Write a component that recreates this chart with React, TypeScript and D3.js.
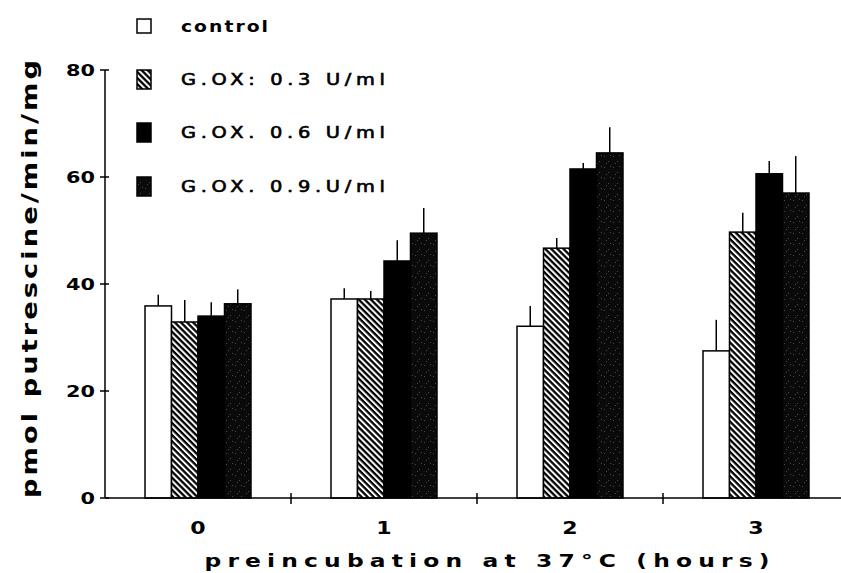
import React, { useEffect, useRef } from 'react';
import * as d3 from 'd3';

// preincubation time (hours)
const hours = ['0', '1', '2', '3'];
const seriesKeys = ['control', 'gox03', 'gox06', 'gox09'];
const seriesLabels = ['control', 'G.OX: 0.3 U/ml', 'G.OX. 0.6 U/ml', 'G.OX. 0.9.U/ml'];

// means and upper error bars (pmol putrescine/min/mg)
const controlVals = [35.9, 37.2, 32.1, 27.5];
const controlErr = [38.0, 39.2, 35.9, 33.3];
const gox03Vals = [32.9, 37.2, 46.7, 49.7];
const gox03Err = [37.0, 38.7, 48.6, 53.3];
const gox06Vals = [34.0, 44.3, 61.5, 60.6];
const gox06Err = [36.6, 48.2, 62.6, 63.0];
const gox09Vals = [36.3, 49.5, 64.5, 57.0];
const gox09Err = [39.0, 54.2, 69.3, 63.9];

const yTicks = [0, 20, 40, 60, 80];

const FONT = 'DejaVu Sans, Verdana, sans-serif';

const App = () => {
  const svgRef = useRef<SVGSVGElement>(null);

  useEffect(() => {
    const svg = d3.select(svgRef.current);
    svg.selectAll('*').remove();

    const W = 841, H = 573;
    const left = 105, bottom = 498, top = 70;
    const stretch = 1.3; // police étirée
    const legStretch = 1.25;

    const defs = svg.append('defs');
    // hachures
    const hatch = defs.append('pattern')
      .attr('id', 'hatch')
      .attr('patternUnits', 'userSpaceOnUse')
      .attr('width', 4.3).attr('height', 4.3)
      .attr('patternTransform', 'rotate(45)');
    hatch.append('rect').attr('width', 4.3).attr('height', 4.3).attr('fill', 'white');
    hatch.append('rect').attr('width', 4.3).attr('height', 2.3).attr('fill', 'black');

    // noir tacheté
    const speck = defs.append('pattern')
      .attr('id', 'speck')
      .attr('patternUnits', 'userSpaceOnUse')
      .attr('width', 9).attr('height', 11);
    speck.append('rect').attr('width', 9).attr('height', 11).attr('fill', '#0a0a0a');
    [[1, 2], [5, 7], [7, 1], [3, 9]].forEach(([sx, sy]) => {
      speck.append('rect').attr('x', sx).attr('y', sy).attr('width', 1).attr('height', 1).attr('fill', '#4a4a4a');
    });

    const x = d3.scaleBand().domain(hours).range([left, left + 4 * 186]).paddingInner(0).paddingOuter(0);
    const xs = d3.scaleBand().domain(seriesKeys).range([0, x.bandwidth()]).paddingInner(0).paddingOuter(1.51);
    const y = d3.scaleLinear().domain([0, 80]).range([bottom, top]);

    const fills: Record<string, string> = {
      control: 'white', gox03: 'url(#hatch)', gox06: 'black', gox09: 'url(#speck)',
    };
    const vals: Record<string, number[]> = {
      control: controlVals, gox03: gox03Vals, gox06: gox06Vals, gox09: gox09Vals,
    };
    const errs: Record<string, number[]> = {
      control: controlErr, gox03: gox03Err, gox06: gox06Err, gox09: gox09Err,
    };

    const rows = hours.flatMap((h, i) => seriesKeys.map(k => ({ h, k, v: vals[k][i], e: errs[k][i] })));

    // barres d'erreur
    svg.selectAll('line.err')
      .data(rows)
      .enter()
      .append('line')
      .attr('x1', d => x(d.h)! + xs(d.k)! + xs.bandwidth() / 2)
      .attr('x2', d => x(d.h)! + xs(d.k)! + xs.bandwidth() / 2)
      .attr('y1', d => y(d.v))
      .attr('y2', d => y(d.e))
      .attr('stroke', 'black')
      .attr('stroke-width', 1.5);

    // barres
    svg.selectAll('rect.bar')
      .data(rows)
      .enter()
      .append('rect')
      .attr('x', d => x(d.h)! + xs(d.k)!)
      .attr('y', d => y(d.v))
      .attr('width', xs.bandwidth())
      .attr('height', d => bottom - y(d.v))
      .attr('fill', d => fills[d.k])
      .attr('stroke', 'black')
      .attr('stroke-width', 1.5);

    // axes
    svg.append('line')
      .attr('x1', left).attr('x2', left).attr('y1', top).attr('y2', bottom)
      .attr('stroke', 'black').attr('stroke-width', 1.5);
    svg.append('line')
      .attr('x1', left).attr('x2', W).attr('y1', bottom).attr('y2', bottom)
      .attr('stroke', 'black').attr('stroke-width', 1.5);

    svg.selectAll('line.ytick')
      .data(yTicks)
      .enter()
      .append('line')
      .attr('x1', left - 5).attr('x2', left + 4)
      .attr('y1', d => y(d)).attr('y2', d => y(d))
      .attr('stroke', 'black').attr('stroke-width', 1.5);

    svg.selectAll('text.ytick')
      .data(yTicks)
      .enter()
      .append('text')
      .attr('transform', d => `translate(${left - 10}, ${y(d) + 6}) scale(${stretch}, 1)`)
      .attr('text-anchor', 'end')
      .attr('font-family', FONT)
      .attr('font-weight', 'bold')
      .attr('font-size', 16)
      .text(d => d);

    svg.selectAll('line.xtick')
      .data(hours.slice(1))
      .enter()
      .append('line')
      .attr('x1', d => x(d)!).attr('x2', d => x(d)!)
      .attr('y1', bottom - 5).attr('y2', bottom + 6)
      .attr('stroke', 'black').attr('stroke-width', 1.5);

    svg.selectAll('text.xtick')
      .data(hours)
      .enter()
      .append('text')
      .attr('transform', d => `translate(${x(d)! + x.bandwidth() / 2}, 534) scale(${stretch}, 1)`)
      .attr('text-anchor', 'middle')
      .attr('font-family', FONT)
      .attr('font-weight', 'bold')
      .attr('font-size', 17)
      .text(d => d);

    // titres
    svg.append('text')
      .attr('transform', `translate(37, 279) rotate(-90) scale(${stretch}, 1)`)
      .attr('text-anchor', 'middle')
      .attr('font-family', FONT)
      .attr('font-weight', 'bold')
      .attr('font-size', 21)
      .attr('textLength', 438 / stretch)
      .attr('lengthAdjust', 'spacing')
      .text('pmol putrescine/min/mg');

    svg.append('text')
      .attr('transform', `translate(487, 567) scale(${stretch}, 1)`)
      .attr('text-anchor', 'middle')
      .attr('font-family', FONT)
      .attr('font-weight', 'bold')
      .attr('font-size', 18)
      .attr('textLength', 565 / stretch)
      .attr('lengthAdjust', 'spacing')
      .text('preincubation at 37°C (hours)');

    // légende
    const legY = [26, 79, 132, 186];
    const leg = svg.selectAll('g.leg')
      .data(seriesKeys)
      .enter()
      .append('g')
      .attr('transform', (d, i) => `translate(0, ${legY[i]})`);
    leg.append('rect')
      .attr('x', 137)
      .attr('y', (d, i) => (i === 0 ? -7 : -9))
      .attr('width', 14)
      .attr('height', (d, i) => (i === 0 ? 14 : 19))
      .attr('fill', d => fills[d])
      .attr('stroke', 'black')
      .attr('stroke-width', 1.5);
    leg.append('text')
      .attr('transform', `translate(181, 6) scale(${legStretch}, 1)`)
      .attr('font-family', FONT)
      .attr('font-weight', (d, i) => (i === 0 ? 'bold' : 'normal'))
      .attr('font-size', (d, i) => (i === 0 ? 15 : 15.5))
      .attr('stroke', 'black')
      .attr('stroke-width', (d, i) => (i === 0 ? 0 : 0.6))
      .attr('textLength', (d, i) => (i === 0 ? 87 / legStretch : 204 / legStretch))
      .attr('lengthAdjust', 'spacing')
      .text((d, i) => seriesLabels[i]);

    svg.attr('width', W).attr('height', H);
  }, []);

  return (
    <svg ref={svgRef} width={841} height={573} style={{ position: 'absolute', left: 0, top: 0, background: 'white' }}></svg>
  );
};

export default App;
